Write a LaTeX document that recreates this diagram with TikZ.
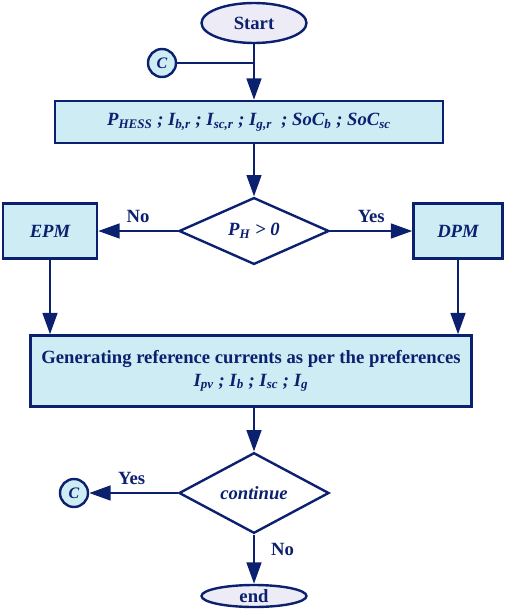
\documentclass[tikz,border=0pt]{standalone}
\usepackage{fontspec}
\setmainfont{Liberation Serif}
\usepackage{tikz}
\usetikzlibrary{positioning,shapes.geometric,arrows.meta}
\definecolor{navy}{RGB}{12,32,112}
\definecolor{boxfill}{RGB}{206,236,243}
\definecolor{ovalfill}{RGB}{237,235,245}
\newcommand{\sbs}[1]{\textsubscript{#1}}

\begin{document}
\begin{tikzpicture}[x=0.75pt, y=-0.75pt,
  font=\fontsize{14}{16}\selectfont\bfseries, text=navy,
  line/.style={draw=navy, line width=1.8pt},
  flow/.style={line, -{Triangle[length=16pt,width=11pt]}},
  oval/.style={ellipse, line, fill=ovalfill, inner sep=0pt, minimum width=78.75pt},
  procbox/.style={rectangle, line, fill=boxfill, inner sep=0pt, align=center},
  decide/.style={diamond, line, fill=white, inner sep=0pt, minimum width=112.5pt, minimum height=41.25pt},
  conn/.style={circle, line, fill=boxfill, inner sep=0pt, minimum size=21pt, font=\fontsize{12}{14}\selectfont\bfseries\itshape},
  lbl/.style={inner sep=2pt}
  ]
  \useasboundingbox (0,0) rectangle (505,610);
  \node[oval, minimum height=30pt] (start) at (254,23) {Start};
  \node[conn] (c1) at (162,63) {C};
  \node[procbox, minimum width=291pt, minimum height=31.5pt, font=\fontsize{14}{16}\selectfont\bfseries\itshape] (inputs) at (249,122)
    {P\sbs{HESS} ; I\sbs{b,r} ; I\sbs{sc,r} ; I\sbs{g,r}\ \ ; SoC\sbs{b} ; SoC\sbs{sc}};
  \node[decide, font=\fontsize{14}{16}\selectfont\bfseries\itshape] (sign) at (254,231) {P\sbs{H} > 0};
  \node[procbox, minimum width=70.5pt, minimum height=41.25pt, font=\fontsize{14}{16}\selectfont\bfseries\itshape] (epm) at (50,231) {EPM};
  \node[procbox, minimum width=66.75pt, minimum height=41.25pt, font=\fontsize{14}{16}\selectfont\bfseries\itshape] (dpm) at (458,231) {DPM};
  \node[procbox, minimum width=330.75pt, minimum height=53.25pt] (refgen) at (251,371)
    {Generating reference currents as per the preferences\\[1pt]
     \itshape I\sbs{pv} ; I\sbs{b} ; I\sbs{sc} ; I\sbs{g}};
  \node[decide, font=\fontsize{14}{16}\selectfont\bfseries\itshape] (again) at (254,493) {continue};
  \node[conn] (c2) at (74,493) {C};
  \node[oval, minimum height=16.5pt] (stop) at (254,596) {end};

  \coordinate (join) at (start.south |- c1.east);
  \draw[line] (c1.east) -- (join);
  \draw[flow] (start.south) -- (start.south |- inputs.north);
  \draw[flow] (sign.north |- inputs.south) -- (sign.north);
  \draw[flow] (sign.west) -- node[lbl, above=3pt] {No} (epm.east);
  \draw[flow] (sign.east) -- node[lbl, above=3pt] {Yes} (dpm.west);
  \draw[flow] (epm.south) -- (epm.south |- refgen.north);
  \draw[flow] (dpm.south) -- (dpm.south |- refgen.north);
  \draw[flow] (again.north |- refgen.south) -- (again.north);
  \draw[flow] (again.west) -- node[lbl, above=3pt, pos=0.52] {Yes} (c2.east);
  \draw[flow] (again.south) -- node[lbl, right=10pt, pos=0.3] {No} (stop.north);
\end{tikzpicture}
\end{document}
